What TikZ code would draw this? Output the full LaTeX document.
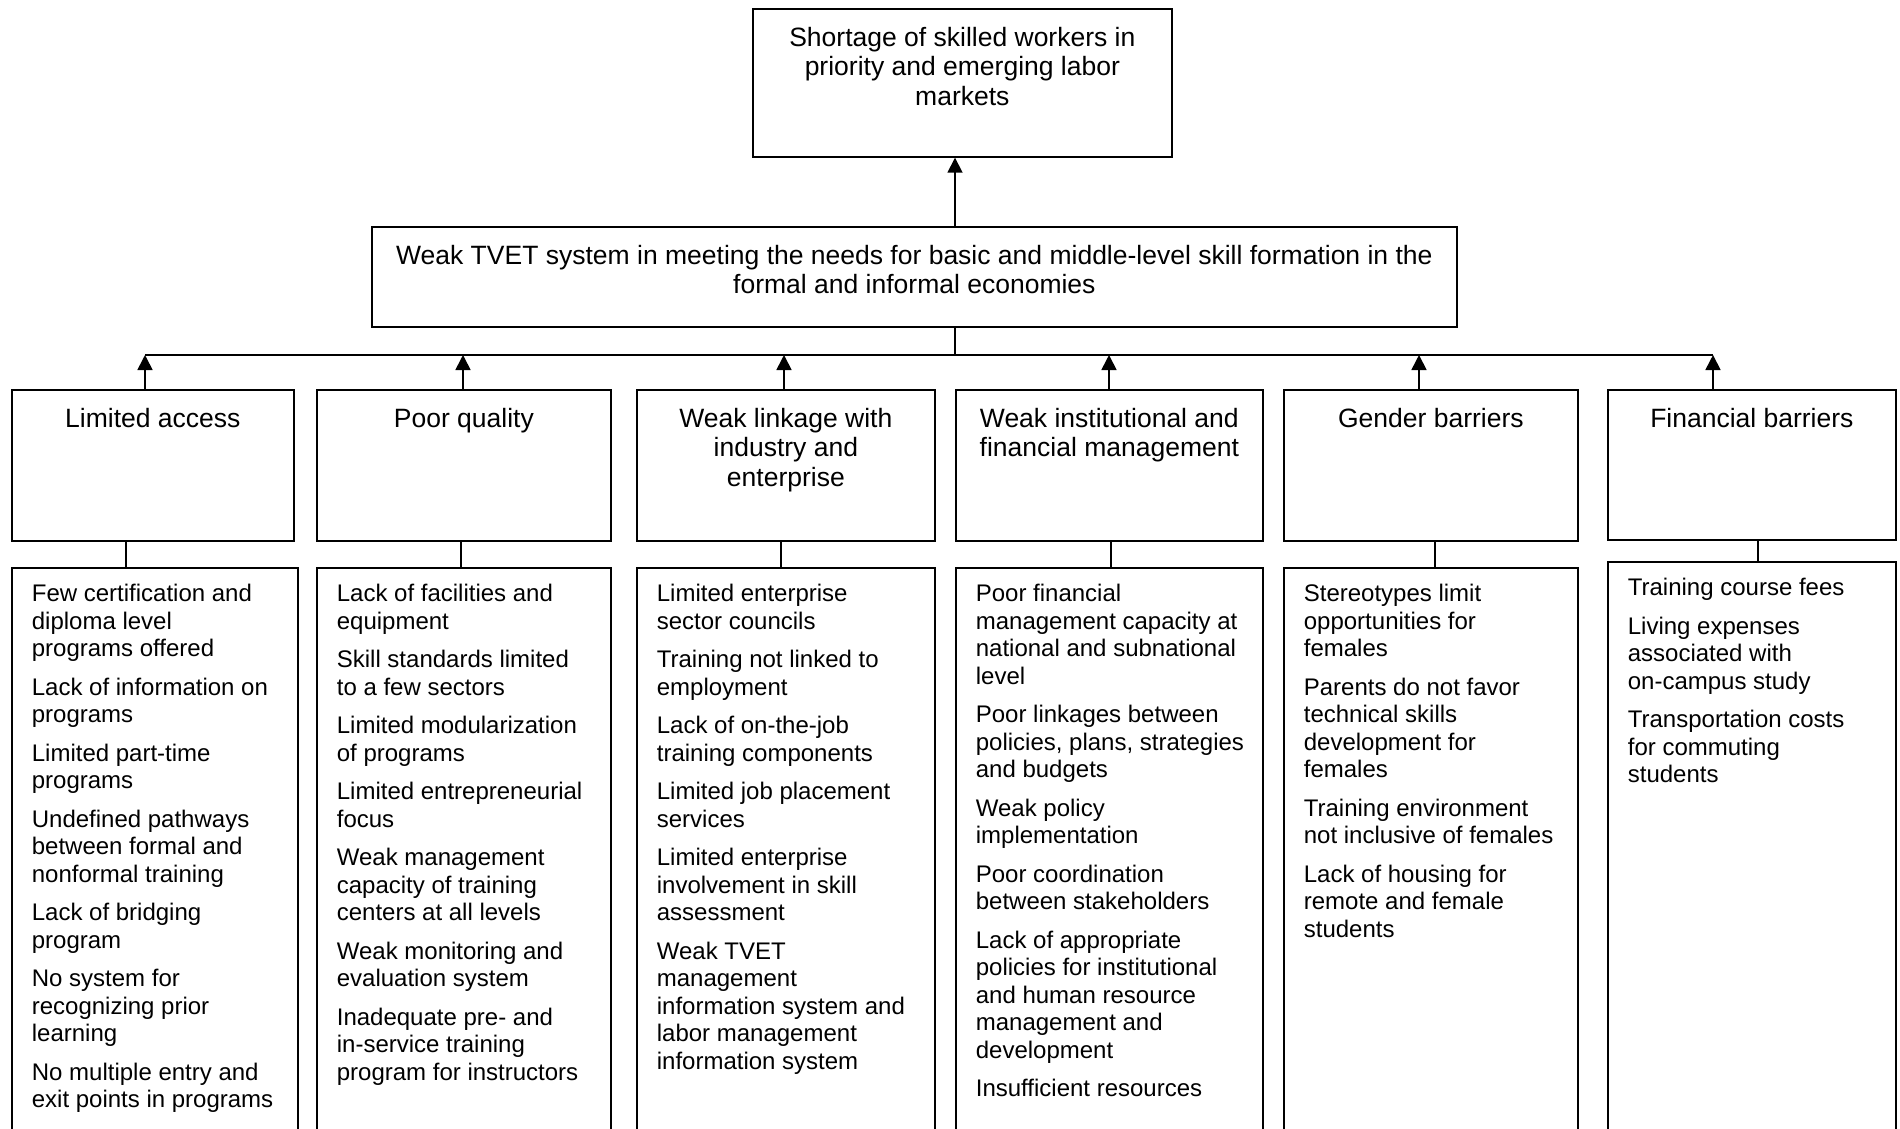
\documentclass[tikz,border=0pt]{standalone}
\usepackage{fontspec}
\setmainfont{Liberation Sans}
\usetikzlibrary{arrows.meta}

\begin{document}
\begin{tikzpicture}[x=1pt, y=-1pt, line width=1.7pt,
    frame/.style = {draw, anchor=north west, inner sep=0pt},
    headtext/.style = {align=center, inner sep=0pt, anchor=north, font=\fontsize{26.5}{29.7}\selectfont},
    itemtext/.style = {align=left, inner sep=0pt, anchor=north west, font=\fontsize{24}{27.5}\selectfont},
    up/.style = {-{Triangle[width=15pt,length=15pt]}}]
    \useasboundingbox (0,0) rectangle (1900,1128);
    \clip (0,0) rectangle (1900,1128);

    % effect and core problem
    \node[frame, minimum width=419pt, minimum height=148pt] (effect) at (752,8) {};
    \node[headtext] (effect-t) at ([yshift=-18pt]effect.north) {Shortage of skilled workers in\\priority and emerging labor\\markets};
    \node[frame, minimum width=1085pt, minimum height=100pt] (core) at (371,226) {};
    \node[headtext] (core-t) at ([yshift=-18pt]core.north) {Weak TVET system in meeting the needs for basic and middle-level skill formation in the\\formal and informal economies};

    % causes
    \node[frame, minimum width=282pt, minimum height=151pt] (c1) at (11,389) {};
    \node[frame, minimum width=294pt, minimum height=151pt] (c2) at (316,389) {};
    \node[frame, minimum width=298pt, minimum height=151pt] (c3) at (636,389) {};
    \node[frame, minimum width=307pt, minimum height=151pt] (c4) at (955,389) {};
    \node[frame, minimum width=294pt, minimum height=151pt] (c5) at (1283,389) {};
    \node[frame, minimum width=288pt, minimum height=150pt] (c6) at (1607,389) {};
    \node[headtext] at ([yshift=-18pt]c1.north) {Limited access};
    \node[headtext] at ([yshift=-18pt]c2.north) {Poor quality};
    \node[headtext] at ([yshift=-18pt]c3.north) {Weak linkage with\\industry and\\enterprise};
    \node[headtext] at ([yshift=-18pt]c4.north) {Weak institutional and\\financial management};
    \node[headtext] at ([yshift=-18pt]c5.north) {Gender barriers};
    \node[headtext] at ([yshift=-18pt]c6.north) {Financial barriers};

    % lists
    \node[frame, minimum width=286pt, minimum height=700pt] (l1) at (11,567) {};
    \node[frame, minimum width=294pt, minimum height=700pt] (l2) at (316,567) {};
    \node[frame, minimum width=298pt, minimum height=700pt] (l3) at (636,567) {};
    \node[frame, minimum width=307pt, minimum height=700pt] (l4) at (955,567) {};
    \node[frame, minimum width=294pt, minimum height=700pt] (l5) at (1283,567) {};
    \node[frame, minimum width=288pt, minimum height=700pt] (l6) at (1607,561) {};

    \node[itemtext] at ([shift={(20pt,-16.6pt)}]l1.north west) {Few certification and\\diploma level\\programs offered\\[11pt]
        Lack of information on\\programs\\[11pt]
        Limited part-time\\programs\\[11pt]
        Undefined pathways\\between formal and\\nonformal training\\[11pt]
        Lack of bridging\\program\\[11pt]
        No system for\\recognizing prior\\learning\\[11pt]
        No multiple entry and\\exit points in programs};
    \node[itemtext] at ([shift={(20pt,-16.6pt)}]l2.north west) {Lack of facilities and\\equipment\\[11pt]
        Skill standards limited\\to a few sectors\\[11pt]
        Limited modularization\\of programs\\[11pt]
        Limited entrepreneurial\\focus\\[11pt]
        Weak management\\capacity of training\\centers at all levels\\[11pt]
        Weak monitoring and\\evaluation system\\[11pt]
        Inadequate pre- and\\in-service training\\program for instructors};
    \node[itemtext] at ([shift={(20pt,-16.6pt)}]l3.north west) {Limited enterprise\\sector councils\\[11pt]
        Training not linked to\\employment\\[11pt]
        Lack of on-the-job\\training components\\[11pt]
        Limited job placement\\services\\[11pt]
        Limited enterprise\\involvement in skill\\assessment\\[11pt]
        Weak TVET\\management\\information system and\\labor management\\information system};
    \node[itemtext] at ([shift={(20pt,-16.6pt)}]l4.north west) {Poor financial\\management capacity at\\national and subnational\\level\\[11pt]
        Poor linkages between\\policies, plans, strategies\\and budgets\\[11pt]
        Weak policy\\implementation\\[11pt]
        Poor coordination\\between stakeholders\\[11pt]
        Lack of appropriate\\policies for institutional\\and human resource\\management and\\development\\[11pt]
        Insufficient resources};
    \node[itemtext] at ([shift={(20pt,-16.6pt)}]l5.north west) {Stereotypes limit\\opportunities for\\females\\[11pt]
        Parents do not favor\\technical skills\\development for\\females\\[11pt]
        Training environment\\not inclusive of females\\[11pt]
        Lack of housing for\\remote and female\\students};
    \node[itemtext] at ([shift={(20pt,-16.6pt)}]l6.north west) {Training course fees\\[11pt]
        Living expenses\\associated with\\on-campus study\\[11pt]
        Transportation costs\\for commuting\\students};

    % connectors
    \coordinate (hub) at (955,355);
    \coordinate (barL) at (145,355);
    \coordinate (barR) at (1713,355);
    \draw[up] (core.north -| hub) -- (effect.south -| hub);
    \draw (core.south -| hub) -- (hub);
    \draw (barL) -- (barR);
    \foreach \n/\ax/\lx in {1/145/126, 2/463/461, 3/784/781, 4/1109/1111, 5/1419/1435, 6/1713/1758}
    {
        \draw[up] (c\n.north -| \ax,0) -- (hub -| \ax,0);
        \draw (c\n.south -| \lx,0) -- (l\n.north -| \lx,0);
    }
\end{tikzpicture}
\end{document}
